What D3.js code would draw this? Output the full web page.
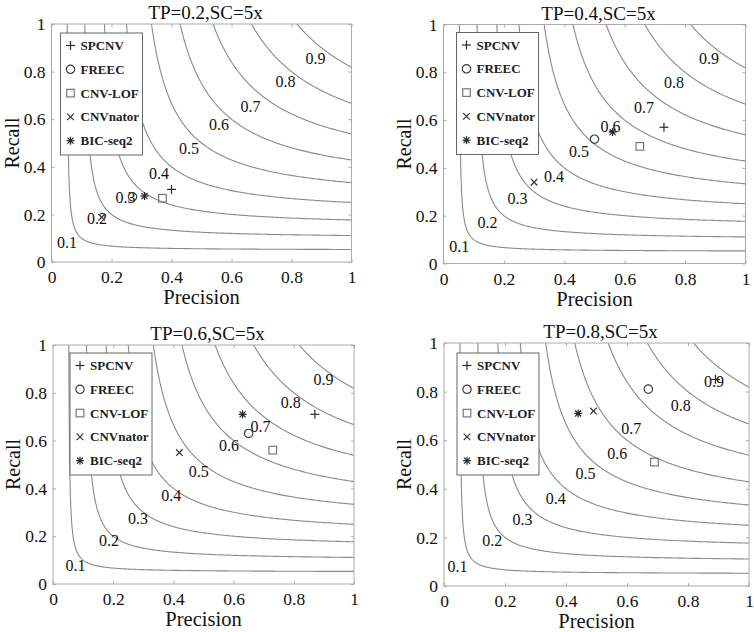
<!DOCTYPE html>
<html>
<head>
<meta charset="utf-8">
<script src="https://cdn.jsdelivr.net/npm/d3@7"></script>
<style>
  body { margin: 0; background: #fff; }
  svg { display: block; }
</style>
</head>
<body>
<svg id="chart"></svg>
<script>
// Iso-F curves with precision/recall of five CNV callers, four TP settings

const panelTitles = ["TP=0.2,SC=5x", "TP=0.4,SC=5x", "TP=0.6,SC=5x", "TP=0.8,SC=5x"];
const methodNames = ["SPCNV", "FREEC", "CNV-LOF", "CNVnator", "BIC-seq2"];
const markerTypes = ["plus", "circle", "square", "cross", "star"];

const fLevels = [0.1, 0.2, 0.3, 0.4, 0.5, 0.6, 0.7, 0.8, 0.9];
const fLabels = ["0.1", "0.2", "0.3", "0.4", "0.5", "0.6", "0.7", "0.8", "0.9"];

const tickValues = [0, 0.2, 0.4, 0.6, 0.8, 1];
const tickLabels = ["0", "0.2", "0.4", "0.6", "0.8", "1"];

// precision / recall per method (order of methodNames)
const precisionTP02 = [0.40, 0.27, 0.37, 0.167, 0.31];
const recallTP02    = [0.305, 0.274, 0.268, 0.188, 0.277];
const precisionTP04 = [0.73, 0.50, 0.65, 0.30, 0.56];
const recallTP04    = [0.57, 0.52, 0.49, 0.34, 0.55];
const precisionTP06 = [0.87, 0.65, 0.73, 0.42, 0.63];
const recallTP06    = [0.71, 0.63, 0.56, 0.55, 0.71];
const precisionTP08 = [0.89, 0.67, 0.69, 0.49, 0.44];
const recallTP08    = [0.85, 0.81, 0.51, 0.72, 0.71];

// where each iso-F label sits, in [precision, recall]
const labelAtTP02 = [[0.052, 0.084], [0.152, 0.182], [0.247, 0.273], [0.358, 0.374], [0.458, 0.476],
                     [0.558, 0.578], [0.663, 0.654], [0.78, 0.759], [0.88, 0.854]];
const labelAtTP04 = [[0.052, 0.07], [0.146, 0.174], [0.245, 0.272], [0.366, 0.365], [0.449, 0.467],
                     [0.553, 0.572], [0.664, 0.653], [0.763, 0.757], [0.879, 0.858]];
const labelAtTP06 = [[0.075, 0.079], [0.186, 0.184], [0.282, 0.275], [0.393, 0.372], [0.484, 0.473],
                     [0.585, 0.582], [0.689, 0.658], [0.79, 0.759], [0.899, 0.858]];
const labelAtTP08 = [[0.044, 0.08], [0.158, 0.187], [0.257, 0.275], [0.366, 0.361], [0.464, 0.464],
                     [0.568, 0.544], [0.614, 0.65], [0.776, 0.743], [0.885, 0.842]];

// Config
const width = 754;
const height = 632;
const serif = "'Liberation Serif', 'Times New Roman', serif";
const boxColor = "#aaa";
const curveColor = "#8a8a8a";
const markerColors = ["#2a2a2a", "#3a3a3a", "#777", "#333", "#222"];

const panels = [
  { title: panelTitles[0], precision: precisionTP02, recall: recallTP02, labelAt: labelAtTP02,
    box: { x: 51.5, y: 24, w: 300, h: 238 }, legend: { dx: 9, dy: 9 } },
  { title: panelTitles[1], precision: precisionTP04, recall: recallTP04, labelAt: labelAtTP04,
    box: { x: 443.5, y: 24.5, w: 302, h: 239 }, legend: { dx: 13, dy: 8 } },
  { title: panelTitles[2], precision: precisionTP06, recall: recallTP06, labelAt: labelAtTP06,
    box: { x: 53, y: 345, w: 301, h: 239 }, legend: { dx: 17, dy: 8 } },
  { title: panelTitles[3], precision: precisionTP08, recall: recallTP08, labelAt: labelAtTP08,
    box: { x: 444, y: 343, w: 305, h: 243 }, legend: { dx: 13, dy: 10 } }
];

const svg = d3.select("#chart")
  .attr("width", width)
  .attr("height", height)
  .attr("viewBox", [0, 0, width, height]);

const defs = svg.append("defs");

// iso-F curve: R = F*P / (2P - F), sampled from R=1 down to P=1
function isoCurve(f) {
  const d0 = f / (2 - f) - f / 2;
  const d1 = 1 - f / 2;
  const n = 260;
  return d3.range(n + 1).map(i => {
    const d = d0 * Math.pow(d1 / d0, i / n);
    const p = f / 2 + d;
    return [p, f * p / (2 * d)];
  });
}

function drawMarker(g, type, cx, cy, color) {
  const m = g.append("g")
    .attr("transform", `translate(${cx},${cy})`)
    .attr("stroke", color)
    .attr("stroke-width", 1.2)
    .attr("fill", "none");
  if (type === "plus" || type === "star") {
    const s = type === "plus" ? 4.5 : 4;
    m.append("line").attr("x1", -s).attr("x2", s);
    m.append("line").attr("y1", -s).attr("y2", s);
  }
  if (type === "cross" || type === "star") {
    const s = type === "cross" ? 3.3 : 3;
    m.append("line").attr("x1", -s).attr("y1", -s).attr("x2", s).attr("y2", s);
    m.append("line").attr("x1", -s).attr("y1", s).attr("x2", s).attr("y2", -s);
  }
  if (type === "circle") m.append("circle").attr("r", 4.2);
  if (type === "square") m.append("rect").attr("x", -3.8).attr("y", -3.8).attr("width", 7.6).attr("height", 7.6);
}

panels.forEach((panel, pi) => {
  const { x, y, w, h } = panel.box;

  const xScale = d3.scaleLinear().domain([0, 1]).range([0, w]);
  const yScale = d3.scaleLinear().domain([0, 1]).range([h, 0]);

  const g = svg.append("g").attr("transform", `translate(${x},${y})`);

  defs.append("clipPath").attr("id", `clip-${pi}`)
    .append("rect").attr("width", w).attr("height", h);

  // Iso-F curves
  const line = d3.line().x(d => xScale(d[0])).y(d => yScale(d[1]));
  g.append("g")
    .attr("clip-path", `url(#clip-${pi})`)
    .selectAll("path")
    .data(fLevels)
    .join("path")
    .attr("d", f => line(isoCurve(f)))
    .attr("fill", "none")
    .attr("stroke", curveColor)
    .attr("stroke-width", 1.1);

  // Curve labels
  g.append("g")
    .selectAll("text")
    .data(fLevels)
    .join("text")
    .attr("x", (f, i) => xScale(panel.labelAt[i][0]))
    .attr("y", (f, i) => yScale(panel.labelAt[i][1]))
    .attr("dy", "0.35em")
    .attr("text-anchor", "middle")
    .attr("font-family", serif)
    .attr("font-size", 16)
    .attr("fill", "#111")
    .text((f, i) => fLabels[i]);

  // Data points
  methodNames.forEach((name, mi) => {
    drawMarker(g, markerTypes[mi], xScale(panel.precision[mi]), yScale(panel.recall[mi]), markerColors[mi]);
  });

  // Axes (ticks pointing inward, on all four sides)
  const fmt = d => tickLabels[tickValues.indexOf(d)];
  const styleAxis = sel => {
    sel.select(".domain").remove();
    sel.selectAll(".tick line").attr("stroke", boxColor);
    sel.selectAll(".tick text")
      .attr("font-family", serif)
      .attr("font-size", 17.5)
      .attr("fill", "#111");
  };

  g.append("g")
    .attr("transform", `translate(0,${h})`)
    .call(d3.axisBottom(xScale).tickValues(tickValues).tickFormat(fmt).tickSizeInner(-3).tickSizeOuter(0).tickPadding(9))
    .call(styleAxis);
  g.append("g")
    .call(d3.axisLeft(yScale).tickValues(tickValues).tickFormat(fmt).tickSizeInner(-3).tickSizeOuter(0).tickPadding(6))
    .call(styleAxis);
  g.append("g")
    .call(d3.axisTop(xScale).tickValues(tickValues).tickFormat("").tickSizeInner(-3).tickSizeOuter(0))
    .call(styleAxis);
  g.append("g")
    .attr("transform", `translate(${w},0)`)
    .call(d3.axisRight(yScale).tickValues(tickValues).tickFormat("").tickSizeInner(-3).tickSizeOuter(0))
    .call(styleAxis);

  g.append("rect")
    .attr("width", w)
    .attr("height", h)
    .attr("fill", "none")
    .attr("stroke", boxColor)
    .attr("stroke-width", 1);

  // Legend (opaque, hides curves underneath)
  const legend = g.append("g")
    .attr("transform", `translate(${panel.legend.dx},${panel.legend.dy})`);
  legend.append("rect")
    .attr("width", 82)
    .attr("height", 122)
    .attr("fill", "#fff")
    .attr("stroke", "#666")
    .attr("stroke-width", 1);
  methodNames.forEach((name, mi) => {
    const ly = 12.5 + mi * 23.8;
    drawMarker(legend, markerTypes[mi], 10, ly, markerColors[mi]);
    legend.append("text")
      .attr("x", 20)
      .attr("y", ly)
      .attr("dy", "0.35em")
      .attr("font-family", serif)
      .attr("font-size", 13)
      .attr("font-weight", "bold")
      .attr("fill", "#222")
      .text(name);
  });

  // Title and axis labels
  g.append("text")
    .attr("x", w / 2 + 4)
    .attr("y", -5)
    .attr("text-anchor", "middle")
    .attr("font-family", serif)
    .attr("font-size", 19)
    .attr("fill", "#111")
    .text(panel.title);

  g.append("text")
    .attr("x", w / 2)
    .attr("y", h + 42)
    .attr("text-anchor", "middle")
    .attr("font-family", serif)
    .attr("font-size", 20.5)
    .attr("fill", "#111")
    .text("Precision");

  g.append("text")
    .attr("transform", `translate(-33,${h / 2}) rotate(-90)`)
    .attr("text-anchor", "middle")
    .attr("font-family", serif)
    .attr("font-size", 20)
    .attr("fill", "#111")
    .text("Recall");
});
</script>
</body>
</html>
